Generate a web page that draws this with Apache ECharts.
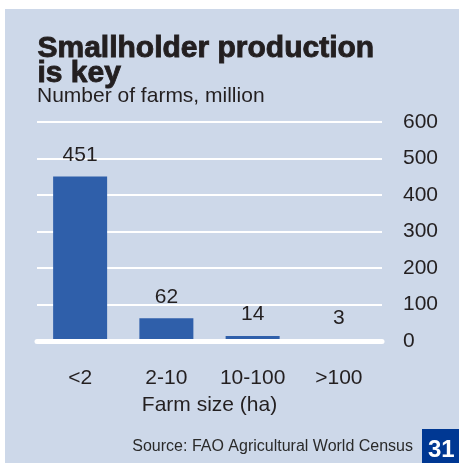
<!DOCTYPE html>
<html>
<head>
<meta charset="utf-8">
<script src="https://cdn.jsdelivr.net/npm/echarts@6/dist/echarts.min.js"></script>
<style>
html,body{margin:0;padding:0;background:#ffffff;}
#chart{width:459px;height:463px;}
</style>
</head>
<body>
<div id="chart"></div>
<script>
var categories = ['<2', '2-10', '10-100', '>100'];
var farms = [451, 62, 14, 3];
var yTicks = [0, 100, 200, 300, 400, 500, 600];

var FONT = '"Liberation Sans", Arial, sans-serif';
var TXT = '#231f20';
var chart = echarts.init(document.getElementById('chart'), null, {renderer: 'canvas'});
chart.setOption({
  animation: false,
  backgroundColor: '#ffffff',
  graphic: [
    {type: 'rect', z: -10, shape: {x: 5, y: 9, width: 460, height: 460}, style: {fill: '#cdd8e9'}},
    {type: 'text', left: 37, top: 33, style: {text: 'Smallholder production', font: '900 30px ' + FONT, fill: TXT, stroke: TXT, lineWidth: 0.9}},
    {type: 'text', left: 37, top: 58, style: {text: 'is key', font: '900 30px ' + FONT, fill: TXT, stroke: TXT, lineWidth: 0.9}},
    {type: 'text', left: 37, top: 86, style: {text: 'Number of farms, million', font: '21px ' + FONT, fill: TXT}},
    {type: 'text', right: 46, top: 439, style: {text: 'Source: FAO Agricultural World Census', font: '16px ' + FONT, fill: '#2a2a2a'}},
    {type: 'rect', shape: {x: 422, y: 429, width: 40, height: 40}, style: {fill: '#003893'}},
    {type: 'text', left: 428, top: 438, style: {text: '31', font: 'bold 24px ' + FONT, fill: '#ffffff'}}
  ],
  grid: {left: 37, right: 77, top: 122, bottom: 122},
  xAxis: {
    type: 'category',
    data: categories,
    offset: 2.5,
    z: 5,
    axisLine: {show: true, lineStyle: {color: '#ffffff', width: 5}},
    axisTick: {show: false},
    axisLabel: {margin: 24, fontSize: 21, color: TXT, fontFamily: FONT},
    name: 'Farm size (ha)',
    nameLocation: 'middle',
    nameGap: 51,
    nameTextStyle: {fontSize: 21, color: TXT, fontFamily: FONT}
  },
  yAxis: {
    type: 'value',
    position: 'right',
    min: yTicks[0],
    max: yTicks[yTicks.length - 1],
    interval: yTicks[1] - yTicks[0],
    axisLine: {show: false},
    axisTick: {show: false},
    splitLine: {lineStyle: {color: '#ffffff', width: 2}},
    axisLabel: {margin: 21, fontSize: 21, color: TXT, fontFamily: FONT, align: 'left'}
  },
  series: [{
    type: 'bar',
    data: farms,
    barWidth: 54,
    itemStyle: {color: '#2f5faa'},
    label: {show: true, position: 'top', distance: 11, fontSize: 21, color: TXT, fontFamily: FONT}
  }]
});
</script>
</body>
</html>
